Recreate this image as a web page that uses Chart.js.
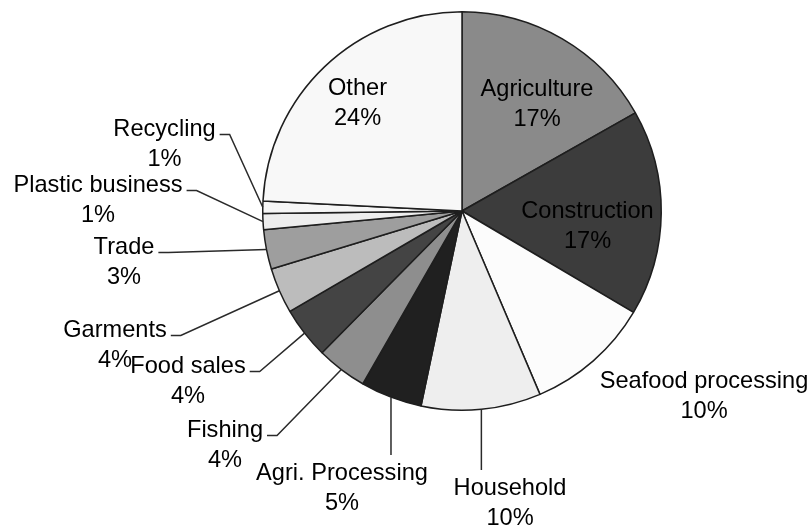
<!DOCTYPE html>
<html>
<head>
<meta charset="utf-8">
<title>Employment sectors</title>
<script src="https://cdn.jsdelivr.net/npm/chart.js@4"></script>
<style>
    html, body { margin: 0; padding: 0; background: #fff; }
    #wrap { position: relative; width: 812px; height: 529px; }
</style>
</head>
<body>
<div id="wrap"><canvas id="pieChart" width="812" height="529"></canvas></div>
<script>
/* ============================================================
   Pie chart — share of workers by sector
   ============================================================ */

var sectors = ['Agriculture', 'Construction', 'Seafood processing', 'Household', 'Agri. Processing',
               'Fishing', 'Food sales', 'Garments', 'Trade', 'Plastic business', 'Recycling', 'Other'];
var shares = [16.8, 16.7, 10.1, 9.7, 5.0, 4.1, 4.2, 3.7, 3.2, 1.3, 1.0, 24.2];
var percentLabels = ['17%', '17%', '10%', '10%', '5%', '4%', '4%', '4%', '3%', '1%', '1%', '24%'];

// greys used for each slice
var sliceColors = ['#8a8a8a', '#3c3c3c', '#fcfcfc', '#eeeeee', '#202020', '#8e8e8e',
                   '#444444', '#bcbcbc', '#9e9e9e', '#eeeeee', '#f6f6f6', '#f8f8f8'];

// label placement: x = text centre, y = baseline of first line, mode of leader line
var labelLayout = [
    { x: 537,   y: 96,  mode: 'none' },
    { x: 587.5, y: 218, mode: 'none' },
    { x: 704,   y: 388, mode: 'none' },
    { x: 510,   y: 495, mode: 'down' },
    { x: 342,   y: 480, mode: 'down' },
    { x: 225,   y: 437, mode: 'left' },
    { x: 188,   y: 373, mode: 'left' },
    { x: 115,   y: 337, mode: 'left' },
    { x: 124,   y: 254, mode: 'left' },
    { x: 98,    y: 192, mode: 'left' },
    { x: 164.5, y: 136, mode: 'left' },
    { x: 357.5, y: 95,  mode: 'none' }
];

var FONT = '23.6px "Liberation Sans", Arial, Helvetica, sans-serif';
var LINE_GAP = 30;

var labelPlugin = {
    id: 'sliceLabels',
    afterDatasetsDraw: function(chart) {
        var ctx = chart.ctx;
        var arcs = chart.getDatasetMeta(0).data;
        ctx.save();
        ctx.font = FONT;
        ctx.fillStyle = '#000';
        ctx.strokeStyle = '#2a2a2a';
        ctx.lineWidth = 1.5;
        ctx.textAlign = 'center';
        ctx.textBaseline = 'alphabetic';

        arcs.forEach(function(arc, i) {
            var lay = labelLayout[i];
            var p = arc.getProps(['x', 'y', 'startAngle', 'endAngle', 'outerRadius'], true);
            var mid = (p.startAngle + p.endAngle) / 2;
            var ex = p.x + Math.cos(mid) * p.outerRadius;
            var ey = p.y + Math.sin(mid) * p.outerRadius;

            ctx.fillText(sectors[i], lay.x, lay.y);
            ctx.fillText(percentLabels[i], lay.x, lay.y + LINE_GAP);

            if (lay.mode === 'left') {
                var w = ctx.measureText(sectors[i]).width;
                var sx = lay.x + w / 2 + 4;
                var sy = lay.y - 1.5;
                ctx.beginPath();
                ctx.moveTo(sx, sy);
                ctx.lineTo(sx + 10, sy);
                ctx.lineTo(ex, ey);
                ctx.stroke();
            } else if (lay.mode === 'down') {
                ctx.beginPath();
                ctx.moveTo(ex, ey);
                ctx.lineTo(ex, lay.y - 25);
                ctx.stroke();
            }
        });
        ctx.restore();
    }
};

new Chart(document.getElementById('pieChart'), {
    type: 'pie',
    data: {
        labels: sectors,
        datasets: [{
            data: shares,
            backgroundColor: sliceColors,
            borderColor: '#1e1e1e',
            borderWidth: 1.5,
            hoverOffset: 0
        }]
    },
    options: {
        responsive: false,
        animation: false,
        layout: { padding: { left: 262, right: 150, top: 11, bottom: 118 } },
        plugins: {
            legend: { display: false },
            tooltip: { enabled: false }
        }
    },
    plugins: [labelPlugin]
});
</script>
</body>
</html>
